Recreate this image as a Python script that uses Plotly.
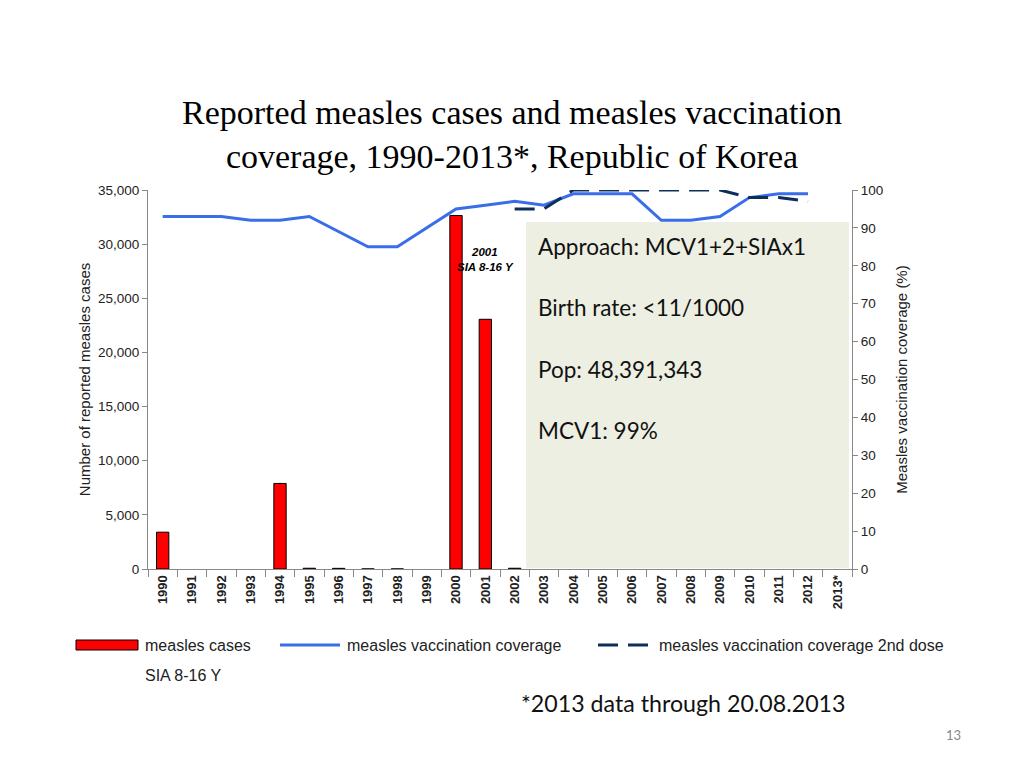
import plotly.graph_objects as go

# data
years = [str(y) for y in range(1990, 2013)] + ["2013*"]
cases = [3400, 0, 0, 0, 7900, 70, 60, 5, 5, 0, 32647, 23060, 70,
         0, 0, 0, 0, 0, 0, 0, 0, 0, 0, 0]
coverage = [93, 93, 93, 92, 92, 93, 89, 85, 85, 90, 95, 96, 97,
            96, 99, 99, 99, 92, 92, 93, 98, 99, 99, None]
coverage_2nd = [None] * 12 + [95, 95, 100, 100, 100, 100, 100, 100, 98, 98, 97, None]

box_lines = ["Approach: MCV1+2+SIAx1", "Birth rate: <11/1000",
             "Pop: 48,391,343", "MCV1: 99%"]

axis_font = dict(family="Liberation Sans, Arial", size=13.5, color="#222")
grey = "#888888"
blue = "#3A6EE8"
navy = "#0E2F5A"

fig = go.Figure()

# no outline on empty years
fig.add_trace(go.Bar(
    x=years, y=cases, name="measles cases",
    marker=dict(color="#FF0000",
                line=dict(color="black", width=[1 if c > 0 else 0 for c in cases])),
    yaxis="y"
))
fig.add_trace(go.Scatter(
    x=years, y=coverage, mode="lines", name="measles vaccination coverage",
    line=dict(color=blue, width=3), yaxis="y2"
))
fig.add_trace(go.Scatter(
    x=years, y=coverage_2nd, mode="lines", name="measles vaccination coverage 2nd dose",
    line=dict(color=navy, width=3, dash="20px,10px"), yaxis="y2"
))

# page body has an 8px margin, so the figure is drawn 8px in from the corner
fig.update_layout(
    width=1008, height=752,
    margin=dict(l=140, r=164, t=182, b=191),
    plot_bgcolor="white", paper_bgcolor="white",
    showlegend=False,
    bargap=0.58,
    title=dict(
        text="Reported measles cases and measles vaccination<br>coverage, 1990-2013*, Republic of Korea",
        font=dict(family="Liberation Serif, Times New Roman", size=34, color="black"),
        x=0.5, xanchor="center", y=1 - 116 / 752, yanchor="middle", yref="container"
    ),
    xaxis=dict(
        type="category", categoryorder="array", categoryarray=years,
        range=[-0.5, len(years) - 0.5],
        tickangle=-90, showgrid=False,
        showline=True, linecolor=grey, linewidth=1,
        ticks="outside", ticklen=7, tickcolor=grey, tickson="boundaries",
        tickfont=dict(family="Liberation Sans, Arial", size=13, color="#222"),
        tickprefix="<b>", ticksuffix="</b>"
    ),
    yaxis=dict(
        range=[0, 35000], dtick=5000, tickformat=",d", showgrid=False,
        showline=True, linecolor=grey, linewidth=1,
        ticks="outside", ticklen=5, tickcolor=grey, tickfont=axis_font,
        zeroline=False,
        title=dict(text="Number of reported measles cases",
                   font=dict(family="Liberation Sans, Arial", size=15, color="#222"),
                   standoff=3)
    ),
    yaxis2=dict(
        range=[0, 100], dtick=10, overlaying="y", side="right", showgrid=False,
        showline=True, linecolor=grey, linewidth=1,
        ticks="outside", ticklen=5, tickcolor=grey, tickfont=axis_font,
        zeroline=False,
        title=dict(text="Measles vaccination coverage (%)",
                   font=dict(family="Liberation Sans, Arial", size=15, color="#222"),
                   standoff=14)
    ),
)

# shaded info box, laid over the later years like in the slide
fig.add_shape(type="rect", xref="paper", yref="paper",
              x0=(526 - 148) / 704, x1=(849 - 148) / 704, y0=0.002, y1=(569 - 222) / 379,
              fillcolor="#ECEFE1", line=dict(width=0), layer="above")

for i, txt in enumerate(box_lines):
    fig.add_annotation(xref="paper", yref="paper", x=(536 - 148) / 704,
                       y=(569 - (246 + i * 61.5)) / 379,
                       text=txt, showarrow=False, xanchor="left", yanchor="middle",
                       font=dict(family="Lato", size=22.5, color="#111"))

# SIA annotation above the 2001 bar
fig.add_annotation(x=years.index("2001"), y=28600, yref="y",
                   text="<b><i>2001<br>SIA 8-16 Y</i></b>",
                   showarrow=False,
                   font=dict(family="Liberation Sans, Arial", size=11.5, color="black"))


# legend drawn by hand
def px_x(v):
    return (v - 148) / 704


def px_y(v):
    return (569 - v) / 379


leg_font = dict(family="Liberation Sans, Arial", size=16, color="#222")
fig.add_shape(type="rect", xref="paper", yref="paper",
              x0=px_x(76), x1=px_x(138), y0=px_y(650), y1=px_y(640),
              fillcolor="#FF0000", line=dict(color="black", width=1))
fig.add_annotation(xref="paper", yref="paper", x=px_x(143), y=px_y(645), text="measles cases",
                   showarrow=False, xanchor="left", yanchor="middle", font=leg_font)
fig.add_shape(type="line", xref="paper", yref="paper",
              x0=px_x(280), x1=px_x(340), y0=px_y(645), y1=px_y(645),
              line=dict(color=blue, width=3))
fig.add_annotation(xref="paper", yref="paper", x=px_x(345), y=px_y(645),
                   text="measles vaccination coverage",
                   showarrow=False, xanchor="left", yanchor="middle", font=leg_font)
fig.add_shape(type="line", xref="paper", yref="paper",
              x0=px_x(598), x1=px_x(656), y0=px_y(645), y1=px_y(645),
              line=dict(color=navy, width=3, dash="20px,10px"))
fig.add_annotation(xref="paper", yref="paper", x=px_x(657), y=px_y(645),
                   text="measles vaccination coverage 2nd dose",
                   showarrow=False, xanchor="left", yanchor="middle", font=leg_font)
fig.add_annotation(xref="paper", yref="paper", x=px_x(143), y=px_y(675), text="SIA 8-16 Y",
                   showarrow=False, xanchor="left", yanchor="middle", font=leg_font)

# footnote and page number
fig.add_annotation(xref="paper", yref="paper", x=px_x(519), y=px_y(703),
                   text="*2013 data through 20.08.2013",
                   showarrow=False, xanchor="left", yanchor="middle",
                   font=dict(family="Lato", size=23.2, color="#111"))
fig.add_annotation(xref="paper", yref="paper", x=px_x(953), y=px_y(735), text="13",
                   showarrow=False, xanchor="center", yanchor="middle",
                   font=dict(family="Lato", size=13, color="#888"))

fig.write_html("out.html")
